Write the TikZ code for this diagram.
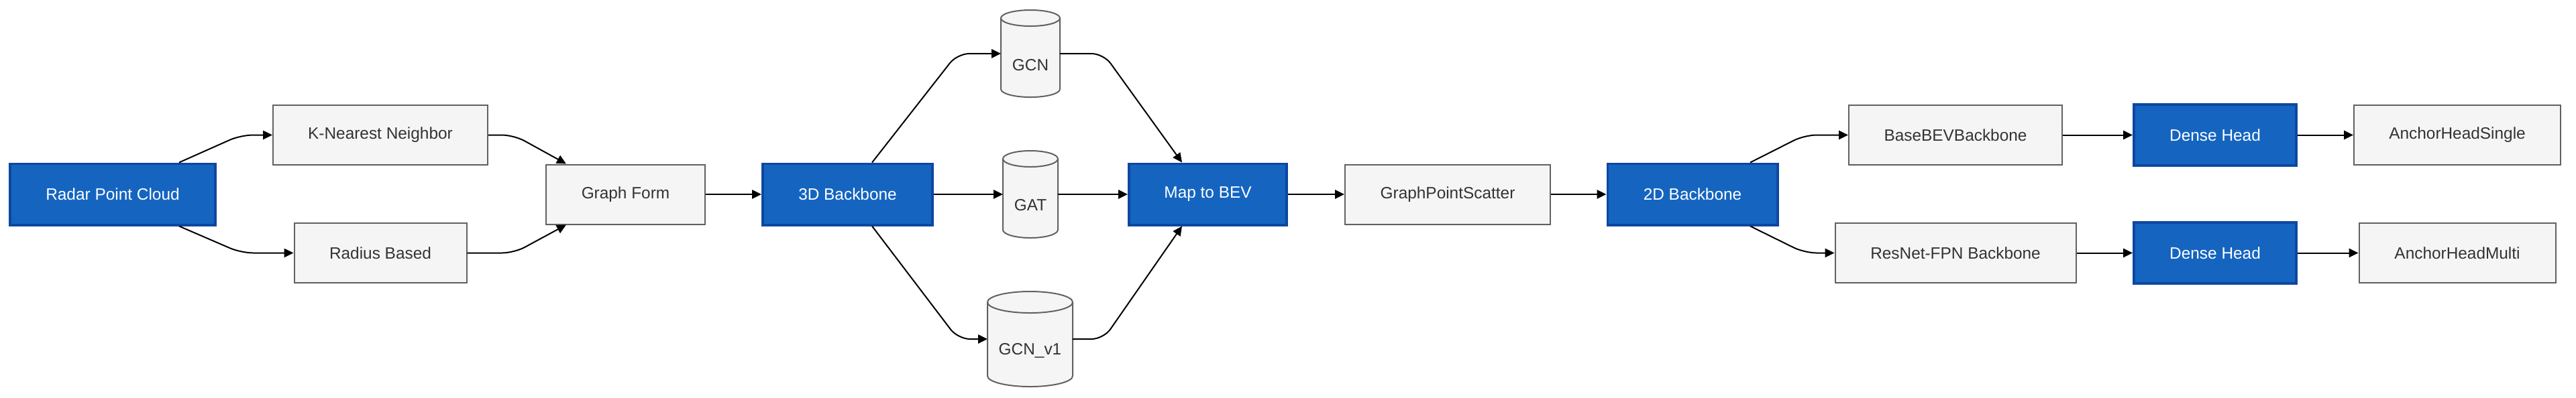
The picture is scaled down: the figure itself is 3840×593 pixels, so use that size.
\documentclass[tikz,border=0pt]{standalone}
\usepackage{fontspec}
\setmainfont{Liberation Sans}
\usetikzlibrary{calc,arrows.meta,shadows}
\definecolor{bluefill}{HTML}{1565C0}
\definecolor{blueline}{HTML}{0D47A1}
\definecolor{grayfill}{HTML}{F5F5F5}
\definecolor{grayline}{HTML}{616161}
\definecolor{graytext}{HTML}{333333}
\newcommand{\mycyl}[3]{%
  \fill[grayfill] ($(#1.north west)+(0pt,-#3)$) -- ($(#1.south west)+(0pt,#3)$)
     arc[start angle=180,end angle=360,x radius=#2,y radius=#3]
     -- ($(#1.north east)+(0pt,-#3)$)
     arc[start angle=0,end angle=180,x radius=#2,y radius=#3] -- cycle;
  \draw[cylline] ($(#1.north west)+(0pt,-#3)$) -- ($(#1.south west)+(0pt,#3)$)
     arc[start angle=180,end angle=360,x radius=#2,y radius=#3]
     -- ($(#1.north east)+(0pt,-#3)$);
  \draw[cylline] ($(#1.north)+(0pt,-#3)$) ellipse[x radius=#2,y radius=#3];
}
\tikzset{
  base/.style={rectangle, inner sep=0pt, align=center,
    font=\fontsize{6.1pt}{7.3pt}\selectfont},
  bluebox/.style={base, fill=bluefill, draw=blueline, line width=0.9pt,
    text=white, minimum height=22.85pt,
    drop shadow={shadow xshift=0pt, shadow yshift=-0.5pt, opacity=0.12}},
  graybox/.style={base, fill=grayfill, draw=grayline, line width=0.5pt,
    text=graytext, minimum height=22.25pt,
    drop shadow={shadow xshift=0pt, shadow yshift=-0.5pt, opacity=0.12}},
  cylnode/.style={rectangle, inner sep=0pt, outer sep=0pt, draw=none},
  cyltext/.style={base, text=graytext},
  cylline/.style={draw=grayline, line width=0.5pt},
  edge/.style={draw=black, line width=0.5pt, rounded corners=4.5pt,
    -{Triangle[length=3.5pt,width=3.3pt]}},
}
\begin{document}
\begin{tikzpicture}[x=0.25pt,y=-0.25pt]
\useasboundingbox (0,0) rectangle (3840,593);
\fill[white] (0,0) rectangle (3840,593);

% nodes
\node[bluebox, minimum width=76.6pt] (radar) at (168,290) {Radar Point Cloud};
\node[graybox, minimum width=80pt] (knn) at (567,201.5) {K-Nearest Neighbor};
\node[graybox, minimum width=64.25pt] (radius) at (567,377.5) {Radius Based};
\node[graybox, minimum width=59.25pt] (gform) at (932.5,290) {Graph Form};
\node[bluebox, minimum width=63.35pt] (bb3d) at (1263.5,290) {3D Backbone};

\node[cylnode, minimum width=22pt, minimum height=32.5pt] (gcn) at (1536,80) {};
\node[cylnode, minimum width=20.5pt, minimum height=32.5pt] (gat) at (1536,290) {};
\node[cylnode, minimum width=31.75pt, minimum height=35.5pt] (gcnv1) at (1535.5,506) {};
\mycyl{gcn}{11pt}{3pt}
\mycyl{gat}{10.25pt}{3pt}
\mycyl{gcnv1}{15.875pt}{4pt}
\node[cyltext] (gcnlbl) at ($(gcn.center)+(0,17)$) {GCN};
\node[cyltext] (gatlbl) at ($(gat.center)+(0,16)$) {GAT};
\node[cyltext] (gcnvlbl) at ($(gcnv1.center)+(0,17)$) {GCN\_v1};

\node[bluebox, minimum width=58.85pt] (bev) at (1800.5,290) {Map to BEV};
\node[graybox, minimum width=76.5pt] (gps) at (2158,290) {GraphPointScatter};
\node[bluebox, minimum width=63.35pt] (bb2d) at (2523,290) {2D Backbone};
\node[graybox, minimum width=79.5pt] (basebev) at (2915,201.5) {BaseBEVBackbone};
\node[graybox, minimum width=89.75pt] (resnet) at (2915,377.5) {ResNet-FPN Backbone};
\node[bluebox, minimum width=60.6pt] (dh1) at (3302,201.5) {Dense Head};
\node[bluebox, minimum width=60.6pt] (dh2) at (3302,377.5) {Dense Head};
\node[graybox, minimum width=77pt] (ahs) at (3663,201.5) {AnchorHeadSingle};
\node[graybox, minimum width=73.25pt] (ahm) at (3663,377.5) {AnchorHeadMulti};

% connectors
\draw[edge] ($(radar.north)+(99,0)$) -- ($(knn.west)+(-47,0)$) -- (knn.west);
\draw[edge] ($(radar.south)+(99,0)$) -- ($(radius.west)+(-78,0)$) -- (radius.west);
\draw[edge] (knn.east) -- ($(knn.east)+(38,0)$) -- ($(gform.north west)+(31,0)$);
\draw[edge] (radius.east) -- ($(radius.east)+(70,0)$) -- ($(gform.south west)+(31,0)$);
\draw[edge] (gform.east) -- (bb3d.west);
\draw[edge] ($(bb3d.north)+(36.5,0)$) -- ($(gcn.west)+(-65,0)$) -- (gcn.west);
\draw[edge] (gcn.east) -- ($(gcn.east)+(65,0)$) -- ($(bev.north)+(-38.5,0)$);
\draw[edge] (bb3d.east) -- (gat.west);
\draw[edge] (gat.east) -- (bev.west);
\draw[edge] ($(bb3d.south)+(36.5,0)$) -- ($(gcnv1.west)+(-44,0)$) -- (gcnv1.west);
\draw[edge] (gcnv1.east) -- ($(gcnv1.east)+(46,0)$) -- ($(bev.south)+(-38.5,0)$);
\draw[edge] (bev.east) -- (gps.west);
\draw[edge] (gps.east) -- (bb2d.west);
\draw[edge] ($(bb2d.north)+(86,0)$) -- ($(basebev.west)+(-65,0)$) -- (basebev.west);
\draw[edge] ($(bb2d.south)+(86,0)$) -- ($(resnet.west)+(-44.5,0)$) -- (resnet.west);
\draw[edge] (basebev.east) -- (dh1.west);
\draw[edge] (dh1.east) -- (ahs.west);
\draw[edge] (resnet.east) -- (dh2.west);
\draw[edge] (dh2.east) -- (ahm.west);
\end{tikzpicture}
\end{document}
